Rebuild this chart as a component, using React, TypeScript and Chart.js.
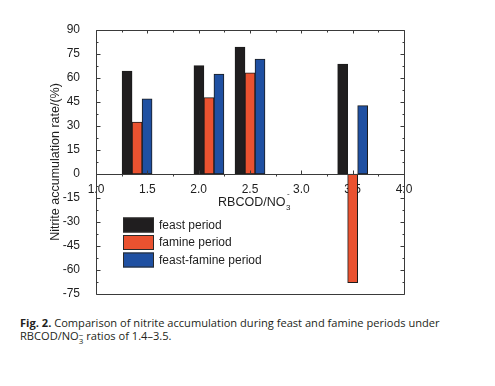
import React, { useEffect, useRef } from 'react';
import { Chart, registerables } from 'chart.js';

Chart.register(...registerables);

// ---- data ----
const ratios = [1.4, 2.1, 2.5, 3.5];
const feast = [64.4, 67.7, 79.4, 68.7];
const famine = [32.5, 47.7, 63.3, -67.9];
const feastFamine = [47.0, 62.5, 71.9, 42.7];
const seriesLabels = ['feast period', 'famine period', 'feast-famine period'];
const seriesColors = ['#201e1f', '#ea5230', '#1f50a2'];
const yMin = -75;
const yMax = 90;
const yStep = 15;
const xMin = 1.0;
const xMax = 4.0;
const xStep = 0.5;
const yTitle = 'Nitrite accumulation rate/(%)';
const xTitleMain = 'RBCOD/NO';
const xTitleSub = '3';
const xTitleSup = '-';

const FONT = "'Liberation Sans', Arial, sans-serif";
const LINE = '#3a3a3a';

const framePlugin = {
  id: 'framePlugin',
  afterDatasetsDraw(chart: any) {
    const { ctx, chartArea, scales } = chart;
    const { left, right, top, bottom } = chartArea;
    const x = scales.x;
    const y = scales.y;
    const L = Math.round(left) + 0.5;
    const R = Math.round(right) + 0.5;
    const T = Math.round(top) + 0.5;
    const B = Math.round(bottom) + 0.5;
    const Z = Math.round(y.getPixelForValue(0)) + 0.5;
    ctx.save();
    ctx.strokeStyle = LINE;
    ctx.lineWidth = 1;
    ctx.beginPath();
    ctx.rect(L, T, R - L, B - T);
    ctx.moveTo(L, Z);
    ctx.lineTo(R, Z);
    const yt = y.ticks;
    for (let i = 0; i < yt.length; i++) {
      const py = Math.round(y.getPixelForValue(yt[i].value)) + 0.5;
      ctx.moveTo(L, py); ctx.lineTo(L + 4, py);
      ctx.moveTo(R, py); ctx.lineTo(R - 4, py);
      if (i < yt.length - 1) {
        const pm = Math.round(y.getPixelForValue((yt[i].value + yt[i + 1].value) / 2)) + 0.5;
        ctx.moveTo(L, pm); ctx.lineTo(L + 2, pm);
        ctx.moveTo(R, pm); ctx.lineTo(R - 2, pm);
      }
    }
    const xt = x.ticks;
    for (let i = 0; i < xt.length; i++) {
      const px = Math.round(x.getPixelForValue(xt[i].value)) + 0.5;
      ctx.moveTo(px, Z); ctx.lineTo(px, Z - 4);
      ctx.moveTo(px, T); ctx.lineTo(px, T + 3);
      if (i < xt.length - 1) {
        const pm = Math.round(x.getPixelForValue((xt[i].value + xt[i + 1].value) / 2)) + 0.5;
        ctx.moveTo(pm, Z); ctx.lineTo(pm, Z + 2);
        ctx.moveTo(pm, T); ctx.lineTo(pm, T + 2);
      }
    }
    ctx.stroke();

    // x-axis title with sub/superscript
    ctx.fillStyle = '#1e1e1e';
    ctx.textBaseline = 'alphabetic';
    ctx.font = `12.5px ${FONT}`;
    const mainW = ctx.measureText(xTitleMain).width;
    ctx.font = `8px ${FONT}`;
    const subW = Math.max(ctx.measureText(xTitleSub).width, ctx.measureText(xTitleSup).width);
    const cx = (left + right) / 2 + 4;
    const startX = cx - (mainW + subW) / 2;
    const baseY = Z + 31;
    ctx.font = `12.5px ${FONT}`;
    ctx.textAlign = 'left';
    ctx.fillText(xTitleMain, startX, baseY);
    ctx.font = `8px ${FONT}`;
    ctx.fillText(xTitleSub, startX + mainW + 0.5, baseY + 4);
    ctx.fillText(xTitleSup, startX + mainW + 1.5, baseY - 10);

    // legend inside plot
    const ds = chart.data.datasets;
    const lx = left + 27;
    let ly = Z + 43;
    ctx.font = `12px ${FONT}`;
    ctx.textBaseline = 'middle';
    for (let i = 0; i < ds.length; i++) {
      ctx.fillStyle = ds[i].backgroundColor;
      ctx.fillRect(lx, ly, 31, 15);
      ctx.strokeStyle = '#2a2a2a';
      ctx.strokeRect(lx + 0.5, ly + 0.5, 30, 14);
      ctx.fillStyle = '#1e1e1e';
      ctx.fillText(ds[i].label, lx + 36, ly + 8);
      ly += 17.5;
    }
    ctx.restore();
  },
};

export default function App() {
  const ref = useRef<HTMLCanvasElement>(null);
  useEffect(() => {
    const canvas = ref.current;
    if (!canvas) return;
    const series = [feast, famine, feastFamine];
    const chart = new Chart(canvas, {
      type: 'bar',
      data: {
        datasets: series.map((vals, k) => ({
          label: seriesLabels[k],
          data: ratios.map((r, i) => ({ x: r, y: vals[i] })),
          backgroundColor: seriesColors[k],
          borderColor: '#1c1c1c',
          borderWidth: 1,
          borderSkipped: false,
          barThickness: 10,
        })),
      },
      options: {
        responsive: false,
        animation: false,
        devicePixelRatio: 1,
        layout: { padding: { left: 0, right: 91, top: 30, bottom: 16 } },
        plugins: {
          legend: { display: false },
          tooltip: { enabled: false },
        },
        scales: {
          x: {
            type: 'linear',
            position: { y: 0 },
            min: xMin,
            max: xMax,
            offset: false,
            grid: { display: false, offset: false },
            border: { display: false },
            ticks: {
              stepSize: xStep,
              padding: 0,
              color: '#1e1e1e',
              font: { family: FONT, size: 12 },
              callback: (v: any) => Number(v).toFixed(1),
            },
          },
          y: {
            type: 'linear',
            position: 'left',
            min: yMin,
            max: yMax,
            grid: { display: false },
            border: { display: false },
            ticks: {
              stepSize: yStep,
              padding: 8,
              color: '#1e1e1e',
              font: { family: FONT, size: 12 },
            },
            title: {
              display: true,
              text: yTitle,
              color: '#1e1e1e',
              font: { family: FONT, size: 12.5 },
              padding: { top: 48.5, bottom: 7 },
            },
            afterFit: (s: any) => { s.width = 96; },
          },
        },
      },
      plugins: [framePlugin],
    } as any);
    return () => chart.destroy();
  }, []);

  return (
    <div style={{ position: 'absolute', left: 0, top: 0, width: 495, height: 386, background: '#fff', overflow: 'hidden' }}>
      <canvas ref={ref} width={495} height={310} style={{ display: 'block', width: 495, height: 310 }} />
      <div
        style={{
          position: 'absolute',
          left: 20,
          top: 316,
          width: 470,
          fontFamily: "'Open Sans', Lato, sans-serif",
          fontSize: '11.1px',
          lineHeight: '13px',
          color: '#231f20',
        }}
      >
        <b>Fig. 2.</b> Comparison of nitrite accumulation during feast and famine periods under
        <br />
        RBCOD/NO
        <span style={{ display: 'inline-block', verticalAlign: '-4px', fontSize: '8px', lineHeight: '6px', textAlign: 'center' }}>
          −<br />3
        </span>{' '}
        ratios of 1.4–3.5.
      </div>
    </div>
  );
}
